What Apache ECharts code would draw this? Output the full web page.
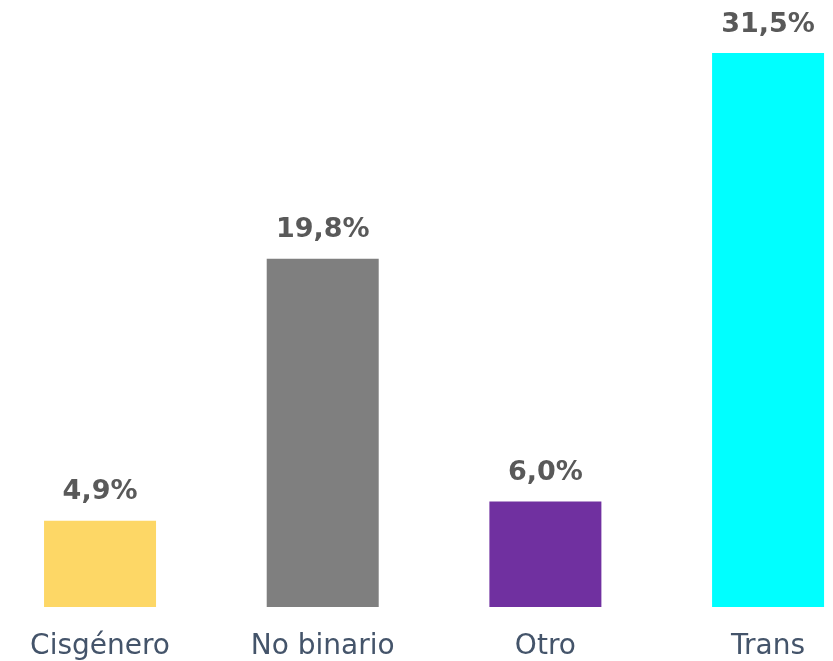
<!DOCTYPE html>
<html>
<head>
<meta charset="utf-8">
<script src="https://cdn.jsdelivr.net/npm/echarts@6/dist/echarts.min.js"></script>
<style>
  html, body { margin: 0; padding: 0; background: #fff; }
  #chart { width: 833px; height: 661px; }
</style>
</head>
<body>
<div id="chart"></div>
<script>
// datos del gráfico
var categorias = ['Cisgénero', 'No binario', 'Otro', 'Trans'];
var valores = [4.9, 19.8, 6.0, 31.5];
var colores = ['#FDD766', '#7F7F7F', '#7030A0', '#00FFFF'];

var myChart = echarts.init(document.getElementById('chart'));

var datos = valores.map(function (v, i) {
    return { value: v, itemStyle: { color: colores[i] } };
});

var option = {
    animation: false,
    grid: {
        left: -11.3,
        width: 890.7,
        top: 53,
        bottom: 54,
        outerBoundsMode: 'none'
    },
    xAxis: {
        type: 'category',
        data: categorias,
        axisLine: { show: false },
        axisTick: { show: false },
        axisLabel: {
            color: '#44546A',
            fontFamily: 'DejaVu Sans',
            fontSize: 28,
            margin: 26
        }
    },
    yAxis: {
        type: 'value',
        min: 0,
        max: 31.5,
        show: false,
        splitLine: { show: false }
    },
    series: [{
        type: 'bar',
        barWidth: 112,
        data: datos,
        label: {
            show: true,
            position: 'top',
            distance: 15,
            color: '#595959',
            fontFamily: 'DejaVu Sans',
            fontWeight: 'bold',
            fontSize: 27,
            formatter: function (p) {
                return p.value.toFixed(1).replace('.', ',') + '%';
            }
        }
    }]
};

myChart.setOption(option);
</script>
</body>
</html>
